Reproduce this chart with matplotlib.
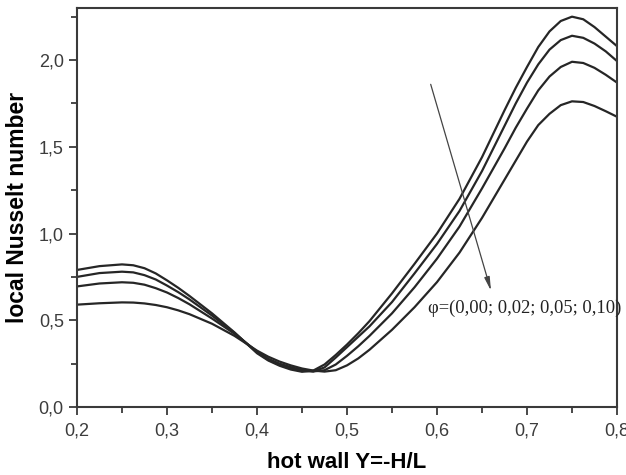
import matplotlib
matplotlib.use("Agg")
import matplotlib.pyplot as plt
from matplotlib.ticker import MultipleLocator, FuncFormatter

# ---- data ----
x_vals = [0.20, 0.225, 0.25, 0.2625, 0.275, 0.2875, 0.30, 0.3125, 0.325, 0.35,
          0.375, 0.40, 0.4125, 0.425, 0.4375, 0.45, 0.4625, 0.475, 0.4875, 0.50,
          0.5125, 0.525, 0.55, 0.575, 0.60, 0.625, 0.65, 0.675, 0.6875, 0.70,
          0.7125, 0.725, 0.7375, 0.75, 0.7625, 0.775, 0.7875, 0.80]

nu_phi000 = [0.79, 0.812, 0.822, 0.817, 0.80, 0.77, 0.73, 0.687, 0.64, 0.54,
             0.43, 0.31, 0.268, 0.238, 0.216, 0.203, 0.21, 0.245, 0.30, 0.36,
             0.425, 0.495, 0.655, 0.825, 1.00, 1.20, 1.44, 1.71, 1.84, 1.96,
             2.075, 2.165, 2.225, 2.25, 2.235, 2.19, 2.135, 2.08]
nu_phi002 = [0.75, 0.772, 0.78, 0.776, 0.76, 0.735, 0.70, 0.662, 0.62, 0.527,
             0.427, 0.315, 0.272, 0.243, 0.222, 0.208, 0.205, 0.228, 0.285, 0.345,
             0.405, 0.465, 0.605, 0.77, 0.94, 1.13, 1.36, 1.62, 1.75, 1.87,
             1.975, 2.06, 2.115, 2.14, 2.128, 2.095, 2.05, 1.994]
nu_phi005 = [0.695, 0.712, 0.719, 0.716, 0.705, 0.685, 0.66, 0.628, 0.592, 0.51,
             0.422, 0.32, 0.278, 0.25, 0.23, 0.214, 0.205, 0.212, 0.245, 0.295,
             0.35, 0.41, 0.54, 0.69, 0.855, 1.04, 1.26, 1.49, 1.61, 1.72,
             1.825, 1.905, 1.96, 1.99, 1.983, 1.955, 1.915, 1.87]
nu_phi010 = [0.59, 0.598, 0.603, 0.602, 0.597, 0.588, 0.575, 0.557, 0.535, 0.48,
             0.41, 0.325, 0.29, 0.262, 0.24, 0.222, 0.21, 0.204, 0.212, 0.24,
             0.28, 0.33, 0.445, 0.575, 0.72, 0.89, 1.09, 1.31, 1.42, 1.53,
             1.625, 1.69, 1.74, 1.762, 1.758, 1.735, 1.705, 1.673]

series = [nu_phi000, nu_phi002, nu_phi005, nu_phi010]

x_ticks = [0.2, 0.3, 0.4, 0.5, 0.6, 0.7, 0.8]
y_ticks = [0.0, 0.5, 1.0, 1.5, 2.0]

annotation_text = "\u03c6=(0,00; 0,02; 0,05; 0,10)"

# ---- figure ----
fig = plt.figure(figsize=(6.26, 4.75), dpi=100)
ax = fig.add_axes([77/626, 68/475, 540/626, 399/475])

for s in series:
    ax.plot(x_vals, s, color="#262626", lw=1.6,
            solid_capstyle="round", solid_joinstyle="round")

ax.set_xlim(0.2, 0.8)
ax.set_ylim(0.0, 2.3)
ax.set_xticks(x_ticks)
ax.set_yticks(y_ticks)
ax.xaxis.set_minor_locator(MultipleLocator(0.05))
ax.yaxis.set_minor_locator(MultipleLocator(0.25))
fmt = FuncFormatter(lambda v, p: f"{v:.1f}".replace(".", ","))
ax.xaxis.set_major_formatter(fmt)
ax.yaxis.set_major_formatter(fmt)

for sp in ax.spines.values():
    sp.set_color("#3a3a3a")
    sp.set_linewidth(1.5)

ax.tick_params(which="major", direction="out", length=6, width=1.3,
               color="#3a3a3a", labelsize=13, labelcolor="#3c3c3c",
               top=False, right=False)
ax.tick_params(which="minor", direction="out", length=4, width=1.3,
               color="#3a3a3a", top=False, right=False)
ax.tick_params(axis="x", pad=5)
for lbl in ax.get_xticklabels() + ax.get_yticklabels():
    lbl.set_fontfamily("Liberation Sans")

ax.set_xlabel("hot wall Y=-H/L", fontsize=16, fontweight="bold",
              family="Liberation Sans", labelpad=9)
ax.set_ylabel("local Nusselt number", fontsize=16.5, fontweight="bold",
              family="Liberation Sans", labelpad=7)

ax.annotate("", xy=(0.66, 0.67), xytext=(0.593, 1.86),
            arrowprops=dict(arrowstyle="-|>,head_length=0.8,head_width=0.16",
                            color="#444444", lw=0.9, shrinkA=0, shrinkB=0))
ax.text(0.59, 0.57, annotation_text, fontsize=13.3, family="Liberation Serif",
        color="#222222", va="center", ha="left")

fig.savefig("out.png", dpi=100)
